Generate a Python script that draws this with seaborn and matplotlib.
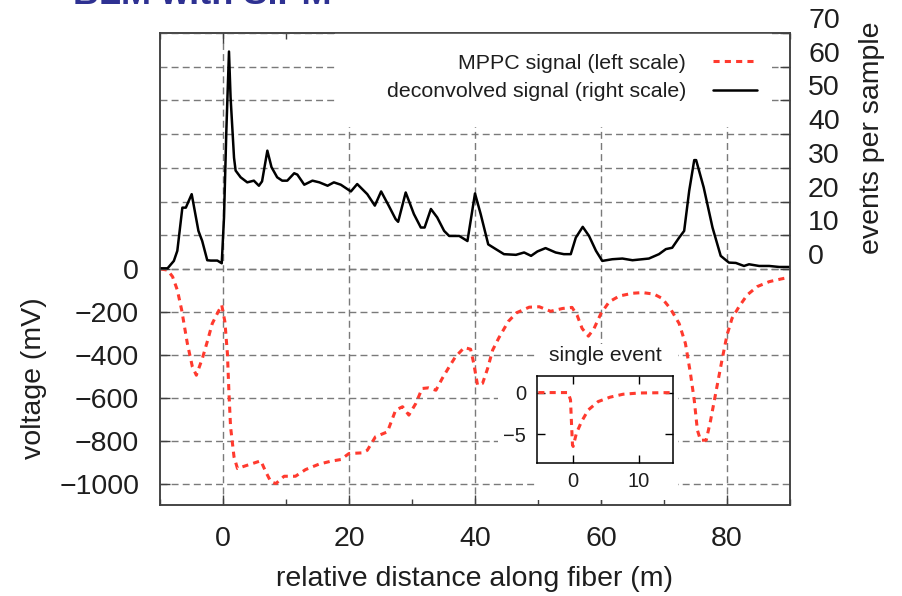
import numpy as np
import pandas as pd
import matplotlib
matplotlib.use("Agg")
import matplotlib.pyplot as plt
import matplotlib.transforms as mtransforms
from matplotlib.patches import Rectangle
from matplotlib.lines import Line2D
from matplotlib.ticker import MultipleLocator
import seaborn as sns

# ---------------- data ----------------
# deconvolved signal (right scale, events per sample)
decon_x = [-9.9, -8.8, -7.8, -7.25, -6.45, -5.9, -4.97, -3.9, -3.3, -2.5, -1.95, -0.9, -0.2,
           0.16, 0.53, 0.95, 1.2, 1.75, 2.0, 2.8, 3.85, 4.9, 5.7, 6.2, 7.04, 7.7, 8.6, 9.4,
           10.2, 11.3, 11.8, 12.9, 14.2, 15.3, 16.6, 17.6, 18.7, 20.3, 21.3, 22.9, 24.1, 25.1,
           26.3, 27.4, 27.8, 29.0, 30.3, 31.4, 32.0, 33.0, 34.0, 35.1, 35.9, 37.5, 38.8, 40.0,
           40.9, 42.1, 43.3, 44.6, 46.5, 47.8, 48.9, 49.9, 51.2, 52.8, 54.1, 55.2, 56.0, 57.1,
           58.1, 59.2, 60.2, 61.8, 63.4, 65.0, 67.6, 69.2, 70.3, 71.3, 72.4, 73.2, 74.0, 74.8,
           75.1, 76.3, 77.7, 79.0, 80.3, 81.4, 82.7, 83.5, 85.1, 86.7, 88.3, 90.0]
decon_y = [0.2, 0.2, 2.4, 5.4, 18.2, 18.2, 22.2, 11.3, 8.3, 2.6, 2.5, 2.5, 1.7,
           15.3, 41.0, 64.5, 51.0, 33.0, 29.2, 27.2, 25.7, 26.2, 24.7, 26.0, 35.1, 30.2, 27.2, 26.2,
           26.2, 28.4, 28.0, 25.0, 26.2, 25.7, 24.7, 25.7, 25.0, 23.0, 25.2, 22.2, 18.8, 23.0,
           18.8, 14.8, 14.0, 22.7, 16.3, 12.3, 12.3, 17.8, 15.3, 11.3, 9.8, 9.8, 8.3, 22.4,
           16.3, 7.3, 5.9, 4.4, 4.2, 4.9, 3.9, 5.2, 6.2, 4.9, 4.4, 4.4, 9.3, 12.5,
           9.8, 5.4, 2.4, 2.9, 3.1, 2.6, 3.1, 4.4, 5.9, 6.3, 9.3, 11.3, 23.2, 32.3,
           32.3, 24.2, 12.3, 3.9, 1.9, 1.8, 0.9, 1.4, 0.9, 0.9, 0.6, 0.6]

# MPPC signal (left scale, mV)
mppc_x = [-9.9, -8.8, -8.0, -7.25, -6.56, -5.66, -4.86, -4.23, -3.28, -2.5, -1.7, -0.9, -0.2,
          0.3, 0.7, 0.95, 1.2, 1.75, 2.3, 3.6, 4.65, 6.0, 6.8, 7.6, 8.4, 9.7, 11.5, 13.1,
          15.2, 17.1, 18.7, 20.0, 22.1, 22.9, 24.2, 26.1, 27.4, 28.5, 29.5, 30.6, 31.6, 32.6,
          33.8, 34.8, 35.9, 36.9, 38.3, 39.3, 39.8, 40.4, 41.2, 42.0, 42.8, 43.8, 45.3, 46.6,
          48.6, 50.2, 52.0, 53.9, 55.4, 56.2, 57.0, 58.0, 58.9, 60.0, 61.3, 62.9, 65.0, 66.6,
          68.4, 69.7, 71.0, 72.4, 73.4, 74.2, 74.8, 75.3, 75.8, 76.7, 77.4, 78.2, 79.2, 80.0,
          80.8, 81.9, 83.2, 84.8, 86.7, 88.5, 89.8]
mppc_y = [0, -5, -36, -98, -191, -347, -456, -495, -417, -339, -254, -207, -168,
          -246, -394, -580, -736, -876, -930, -917, -907, -894, -946, -992, -1000, -966, -966, -935,
          -910, -896, -888, -860, -857, -845, -782, -759, -658, -642, -681, -627, -557, -554,
          -565, -510, -456, -409, -366, -374, -440, -541, -533, -464, -378, -320, -244, -204,
          -178, -176, -197, -184, -179, -215, -277, -313, -277, -207, -153, -126, -113, -110,
          -117, -137, -184, -254, -347, -487, -611, -751, -798, -798, -705, -580, -425, -308,
          -230, -176, -121, -82, -59, -47, -39]

# single event (inset)
single_x = [-5.3, -0.76, -0.4, -0.25, -0.1, 0.0, 0.5, 1.28, 2.3, 3.8, 5.6, 7.6, 10.1, 15.2]
single_y = [0.0, 0.0, -0.88, -3.7, -6.3, -6.5, -4.9, -3.5, -2.1, -1.09, -0.56, -0.2, -0.05, 0.0]

left_ticks = [-1000, -800, -600, -400, -200, 0]
right_ticks = [0, 10, 20, 30, 40, 50, 60, 70]
inset_xticks = [0, 10]
inset_yticks = [-5, 0]

title_text = "BLM with SiPM"
label_mppc = "MPPC signal (left scale)"
label_decon = "deconvolved signal (right scale)"

# ---------------- style ----------------
sns.set_style("white")
plt.rcParams["font.family"] = ["Liberation Sans", "DejaVu Sans"]
plt.rcParams["axes.unicode_minus"] = True

TXT = "#1e1e1e"
RED = "#ff3a2e"
GRIDC = "#7a7a7a"
SPINE = "#404040"

W, H = 903, 596
fig = plt.figure(figsize=(W / 100, H / 100), dpi=100)
fig.patch.set_facecolor("white")


def fx(px):
    return px / W


def fy(py):
    return 1 - py / H


ax = fig.add_axes([fx(160), fy(505), fx(790) - fx(160), fy(33) - fy(505)])
ax2 = ax.twinx()

df_m = pd.DataFrame({"x": mppc_x, "y": mppc_y})
df_d = pd.DataFrame({"x": decon_x, "y": decon_y})

sns.lineplot(data=df_m, x="x", y="y", ax=ax, color=RED, linewidth=2.2,
             linestyle=(0, (2.0, 1.7)), legend=False, zorder=2)
sns.lineplot(data=df_d, x="x", y="y", ax=ax2, color="black", linewidth=1.8,
             legend=False, zorder=2)

ax.set_xlim(-10, 90)
ax.set_ylim(-1100, 1100)
ax2.set_ylim(-70, 70)

grid_kw = dict(color=GRIDC, linewidth=1.0, linestyle=(0, (5, 3)))
ax.xaxis.set_major_locator(MultipleLocator(20))
ax.xaxis.set_minor_locator(MultipleLocator(10))
ax.set_yticks(left_ticks)
ax2.set_yticks(right_ticks)
ax.set_axisbelow(True)
ax2.set_axisbelow(True)
ax.grid(True, axis="x", which="major", **grid_kw)
ax.grid(True, axis="y", which="major", **grid_kw)
ax2.grid(True, axis="y", which="major", **grid_kw)

for a in (ax, ax2):
    for s in a.spines.values():
        s.set_color(SPINE)
        s.set_linewidth(1.1)

ax.tick_params(axis="x", which="major", direction="in", top=True, bottom=True,
               length=7.2, width=1.0, color=SPINE, labelsize=20.5, pad=15, labelcolor=TXT)
ax.tick_params(axis="x", which="minor", direction="in", top=True, bottom=True,
               length=4.3, width=1.0, color=SPINE)
ax.tick_params(axis="y", which="major", direction="in", left=True, right=False,
               length=7.2, width=1.0, color=SPINE, labelsize=20.5, pad=15, labelcolor=TXT)
ax2.tick_params(axis="y", which="major", direction="in", left=False, right=True,
                length=7.2, width=1.0, color=SPINE, labelsize=20.5, pad=13, labelcolor=TXT)

ax.set_xlabel("relative distance along fiber (m)", fontsize=20.5, color=TXT)
ax.xaxis.set_label_coords(0.5, -0.129)
ax.set_ylabel("voltage (mV)", fontsize=20.5, color=TXT)
ax.yaxis.set_label_coords(-0.180, 0.269)
ax2.set_ylabel("events per sample", fontsize=20.5, color=TXT)
ax2.yaxis.set_label_coords(1.1095, 0.7775)

# white areas behind legend and inset (cover grid lines)
for (x0, y0, x1, y1) in [(335, 33, 772, 127), (537, 344, 678, 500), (498, 380, 537, 460)]:
    r = Rectangle((fx(x0), fy(y1)), fx(x1) - fx(x0), fy(y0) - fy(y1),
                  transform=fig.transFigure, facecolor="white", edgecolor="none", zorder=1)
    ax2.add_artist(r)

handles = [Line2D([], [], color=RED, linewidth=2.2, linestyle=(0, (2.0, 1.7))),
           Line2D([], [], color="black", linewidth=1.8)]
leg = ax2.legend(handles, [label_mppc, label_decon], loc="upper right",
                 bbox_to_anchor=(0.9476, 0.956), borderaxespad=0, borderpad=0,
                 frameon=False, markerfirst=False, handlelength=2.06, handletextpad=1.26,
                 labelspacing=0.44, fontsize=15.4)
for t in leg.get_texts():
    t.set_color(TXT)

# right tick labels sit a bit above their ticks in the original
offset = mtransforms.ScaledTranslation(0, 15 / 100, fig.dpi_scale_trans)
for t in ax2.yaxis.get_major_ticks():
    t.label2.set_transform(t.label2.get_transform() + offset)

# ---------------- inset ----------------
axi = fig.add_axes([fx(537), fy(463), fx(673) - fx(537), fy(376) - fy(463)])
axi.set_facecolor("white")
df_s = pd.DataFrame({"x": single_x, "y": single_y})
sns.lineplot(data=df_s, x="x", y="y", ax=axi, color=RED, linewidth=2.2,
             linestyle=(0, (2.0, 1.7)), legend=False)
axi.set_xlim(-5.5, 15.2)
axi.set_ylim(-8.5, 2.0)
axi.set_xticks(inset_xticks)
axi.set_yticks(inset_yticks)
axi.set_xlabel("")
axi.set_ylabel("")
axi.tick_params(direction="in", top=True, bottom=True, left=True, right=True,
                length=5.8, width=1.0, color="black", labelsize=14.5, labelcolor=TXT)
axi.tick_params(axis="x", pad=6.5)
axi.tick_params(axis="y", pad=8)
for s in axi.spines.values():
    s.set_color("black")
    s.set_linewidth(1.1)
axi.set_title("single event", fontsize=15.2, color=TXT, pad=10.5)

fig.text(fx(73), fy(4), title_text, fontsize=26, fontweight="bold", color="#2e3192",
         ha="left", va="baseline")

fig.savefig("out.png", dpi=100, facecolor="white")
